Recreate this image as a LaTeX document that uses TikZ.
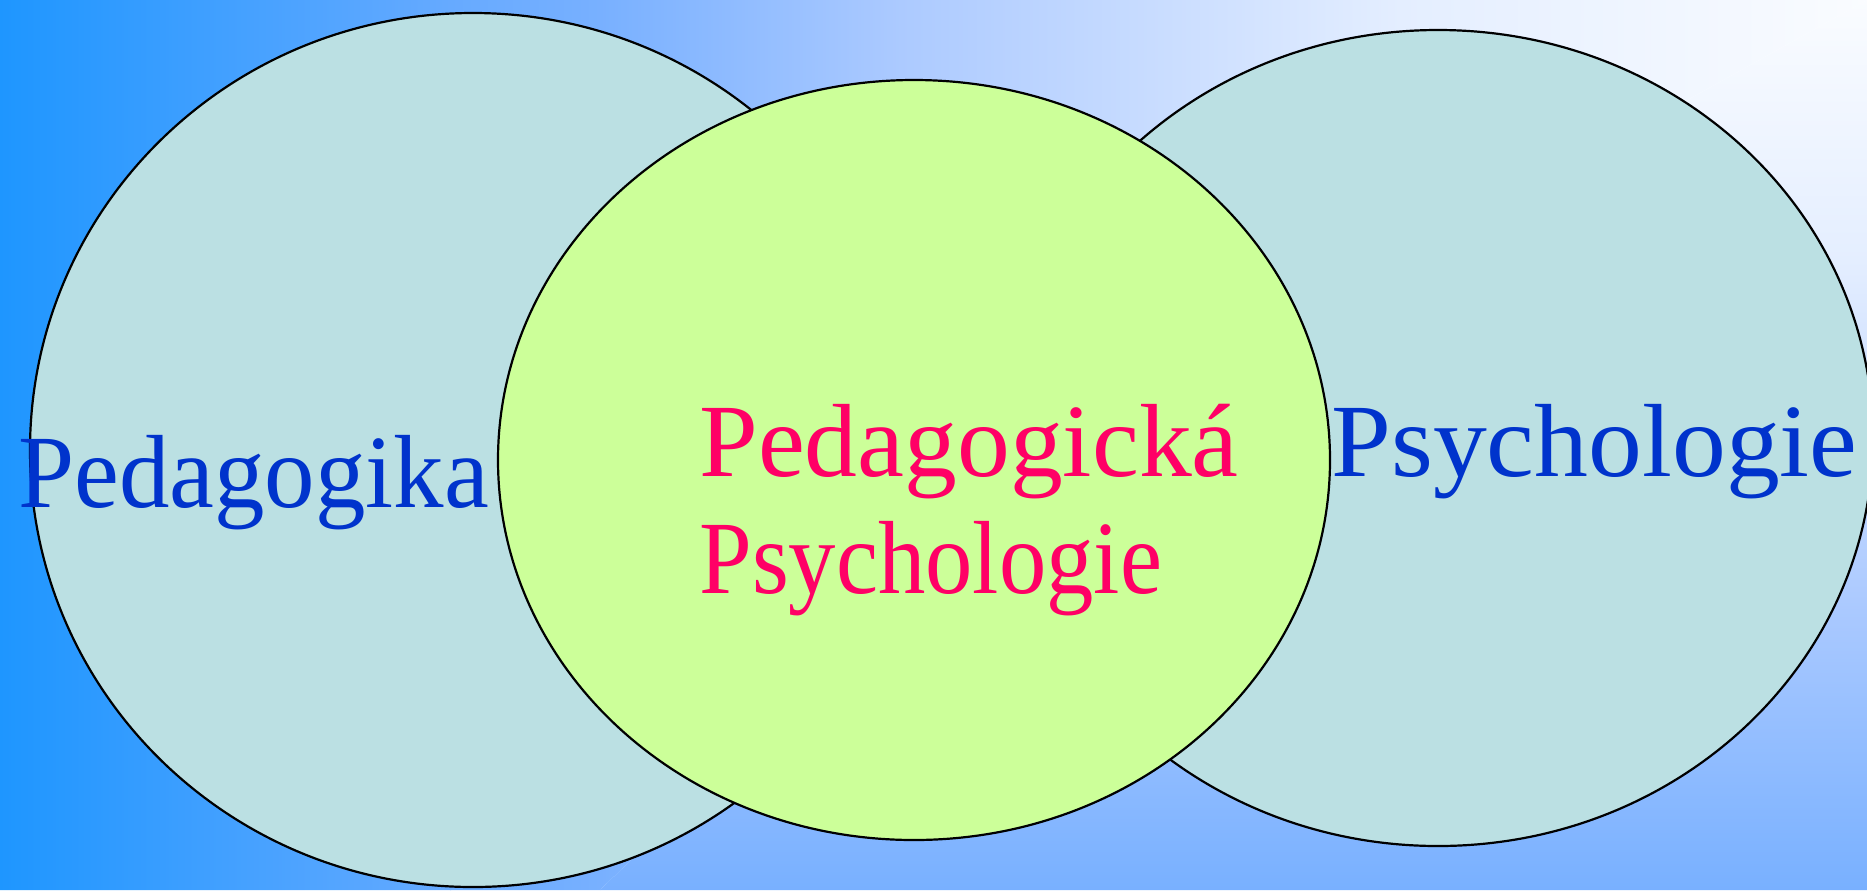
\documentclass[tikz,border=0pt]{standalone}
\usepackage{fontspec}
\setmainfont{Liberation Serif}
\usetikzlibrary{shapes.geometric}
\definecolor{bgA}{HTML}{1E96FF}
\definecolor{bgB}{HTML}{66AAFF}
\definecolor{bgC}{HTML}{78B0FF}
\definecolor{bgD}{HTML}{ACCAFF}
\definecolor{bgE}{HTML}{E4EEFF}
\definecolor{bgF}{HTML}{FAFCFF}
\definecolor{cyanfill}{HTML}{BBE0E3}
\definecolor{greenfill}{HTML}{CCFF99}
\definecolor{txtblue}{HTML}{0033CC}
\definecolor{txtpink}{HTML}{FF0066}
\tikzset{
  venn/.style={ellipse, draw=black, line width=1.1pt, inner sep=0pt},
  bigtext/.style={anchor=base west, inner sep=0pt, font=\fontsize{52}{60}\selectfont}
}
\begin{document}
\begin{tikzpicture}[x=0.5pt, y=-0.5pt]
\useasboundingbox (0,0) rectangle (1867,890);
% background: rectangular gradient from top-right corner
\begin{scope}
  \clip (0,0) -- (1867,0) -- (1400,260) -- (900,600) -- (600,890) -- (0,890) -- cycle;
  \shade[left color=bgA, right color=bgB] (-1,-1) rectangle (451,891);
  \shade[left color=bgB, right color=bgC] (450,-1) rectangle (601,891);
  \shade[left color=bgC, right color=bgD] (600,-1) rectangle (901,891);
  \shade[left color=bgD, right color=bgE] (900,-1) rectangle (1401,891);
  \shade[left color=bgE, right color=bgF] (1400,-1) rectangle (1868,891);
\end{scope}
\begin{scope}
  \clip (1867,0) -- (1400,260) -- (900,600) -- (600,890) -- (1867,890) -- cycle;
  \shade[top color=bgF, bottom color=bgE] (590,-1) rectangle (1868,261);
  \shade[top color=bgE, bottom color=bgD] (590,260) rectangle (1868,601);
  \shade[top color=bgD, bottom color=bgC] (590,600) rectangle (1868,891);
\end{scope}
% ellipses
\node[venn, fill=cyanfill, minimum width=443pt, minimum height=437pt] (ped) at (473,450) {};
\node[venn, fill=cyanfill, minimum width=435pt, minimum height=408pt] (psy) at (1438,438) {};
\node[venn, fill=greenfill, minimum width=416pt, minimum height=380pt] (pp) at (914,460) {};
% texts
\node[bigtext, text=txtblue] (tped) at (18,507) {\scalebox{0.97}[1]{Pedagogika}};
\node[bigtext, text=txtblue] (tpsy) at (1331,476) {\scalebox{1.035}[1]{Psychologie}};
\node[bigtext, text=txtpink] (tppa) at (699,476) {\scalebox{1.015}[1]{Pedagogická}};
\node[bigtext, text=txtpink] (tppb) at (699,593) {\scalebox{0.91}[1]{Psychologie}};
\end{tikzpicture}
\end{document}
